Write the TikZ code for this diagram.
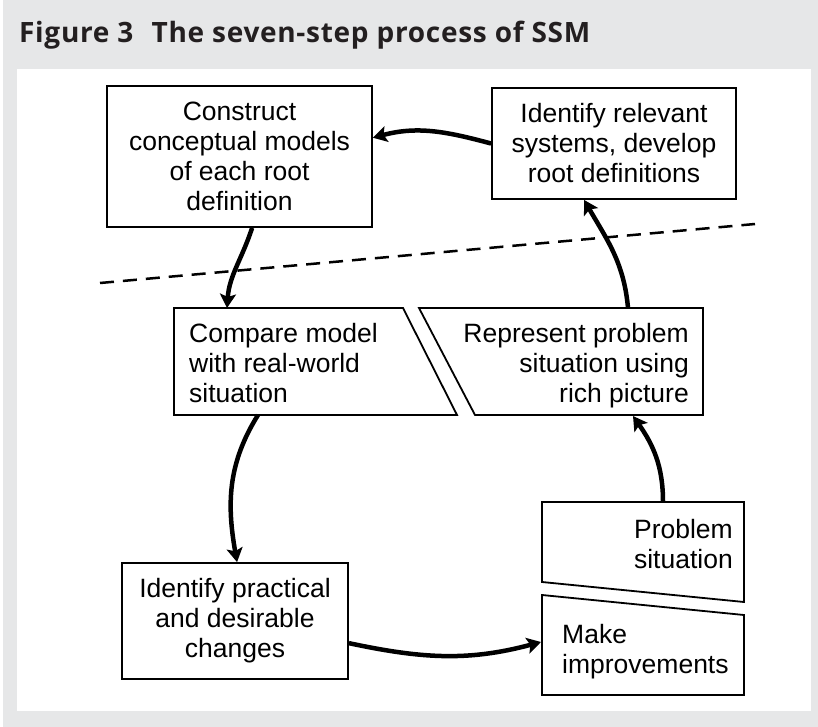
\documentclass[tikz,border=0pt]{standalone}
\usepackage{fontspec}
\setmainfont{Liberation Sans}
\newfontfamily\titlefont[LetterSpace=2.5]{Open Sans}
\usetikzlibrary{arrows.meta,calc}
\definecolor{panelgrey}{RGB}{230,231,232}
\definecolor{titleink}{RGB}{35,31,32}
\begin{document}
\begin{tikzpicture}[x=1pt,y=-1pt,
  box/.style={draw=black,line width=1.8pt,fill=white,inner sep=0pt,align=center,
    font=\fontsize{26.5}{30}\selectfont},
  lbl/.style={inner sep=0pt,font=\fontsize{26.5}{30}\selectfont},
  slantbox/.style={draw=black,line width=1.8pt,fill=white,line join=miter},
  flow/.style={line width=4.5pt,-{Stealth[length=14pt,width=16pt,inset=3pt]}},
  divider/.style={line width=2.5pt,dash pattern=on 14pt off 9pt}]
\useasboundingbox (0,0) rectangle (818,727);
\fill[panelgrey] (3,0) rectangle (818,727);
\fill[white] (17,69) rectangle (811,711);
\node[anchor=base west,inner sep=0pt,font=\titlefont\bfseries\fontsize{28}{30}\selectfont,text=titleink] (title) at (19,43) {Figure 3\hspace{0.65em}The seven-step process of SSM};

% dashed divider
\coordinate (dashL) at (100,283);
\coordinate (dashR) at (755,224);
\draw[divider] (dashL) -- (dashR);

% rectangles
\node[box,minimum width=265,minimum height=141] (construct) at (239.5,156.5)
  {Construct\\conceptual models\\of each root\\definition};
\node[box,minimum width=244,minimum height=111] (idrel) at (614,143.5)
  {Identify relevant\\systems, develop\\root definitions};
\node[box,minimum width=226,minimum height=116] (practical) at (235,621)
  {Identify practical\\and desirable\\changes};

% slanted shapes
\draw[slantbox] (174,308) -- (403,308) -- (457,415) -- (174,415) -- cycle;
\node[lbl,anchor=north west,align=left] (compare) at (189,323)
  {Compare model\\with real-world\\situation};
\draw[slantbox] (419,308) -- (703,308) -- (703,415) -- (475,415) -- cycle;
\node[lbl,anchor=north east,align=right] (rich) at (689,323)
  {Represent problem\\situation using\\rich picture};
\draw[slantbox] (542,502) -- (744,502) -- (744,602) -- (542,582) -- cycle;
\node[lbl,anchor=north east,align=right] (problem) at (733,519)
  {Problem\\situation};
\draw[slantbox] (542,595) -- (744,615) -- (744,695) -- (542,695) -- cycle;
\node[lbl,anchor=north west,align=left] (make) at (562,624)
  {Make\\improvements};

% attachment points on the slanted shapes
\coordinate (cmpIn) at (227,308);
\coordinate (cmpOut) at (258,415);
\coordinate (richOut) at (628,308);
\coordinate (richIn) at (633,416);
\coordinate (probOut) at (663,502);
\coordinate (makeIn) at (541,642);

% connectors
\draw[flow] (idrel.west) to[out=165,in=15] (construct.8);
\draw[flow] (construct.-80) to[out=-108,in=86] (cmpIn);
\draw[flow] (cmpOut) to[out=-122,in=100] (practical.88);
\draw[flow] (practical.-11) to[out=-12,in=195] (makeIn);
\draw[flow] (probOut) to[out=90,in=-55] (richIn);
\draw[flow] (richOut) to[out=95,in=-60] (idrel.242);
\end{tikzpicture}
\end{document}
